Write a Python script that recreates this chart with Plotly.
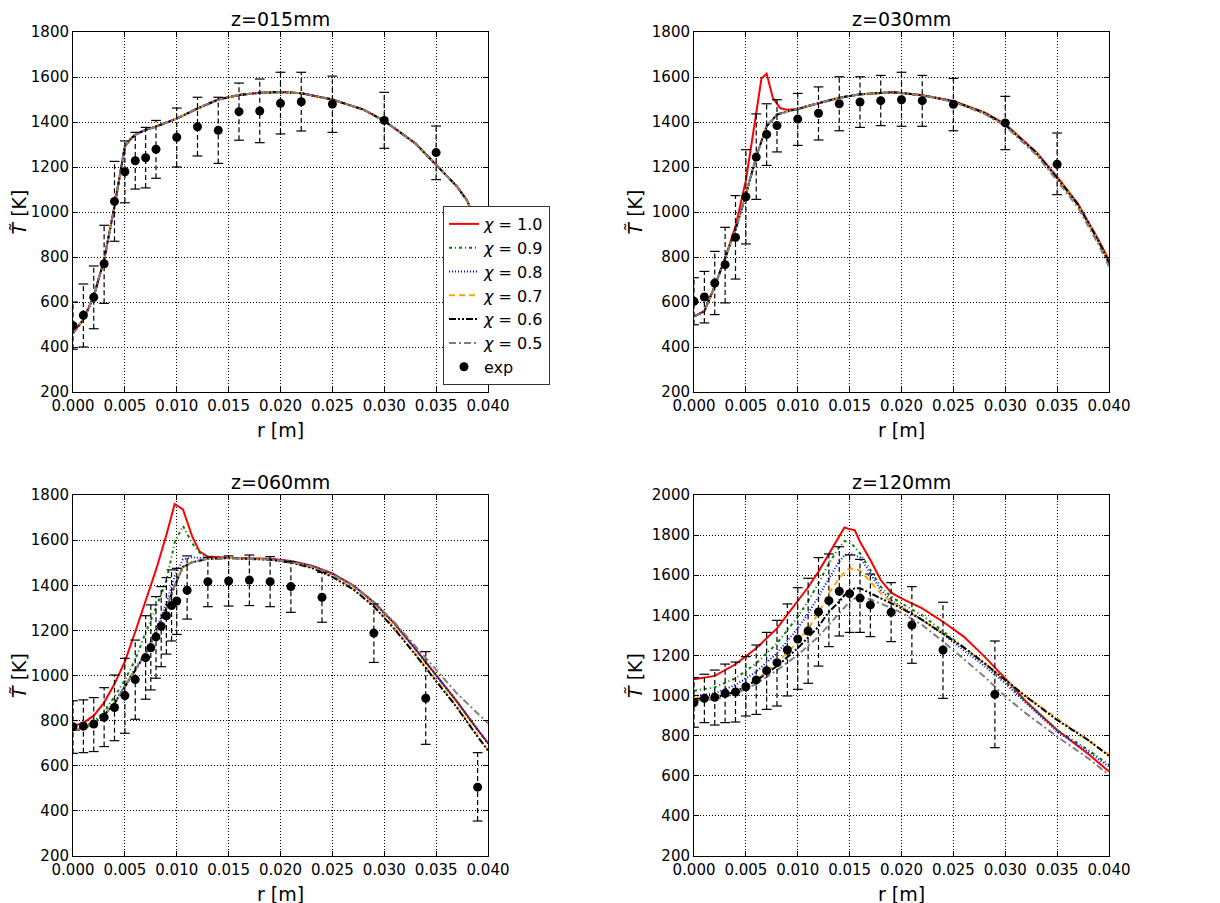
import plotly.graph_objects as go

# ---------------- data ----------------
chi_labels = ["1.0", "0.9", "0.8", "0.7", "0.6", "0.5"]
tick_r = [0.000, 0.005, 0.010, 0.015, 0.020, 0.025, 0.030, 0.035, 0.040]

# z = 015 mm : all six model curves coincide
r15 = [0.000, 0.001, 0.002, 0.003, 0.004, 0.0045, 0.005, 0.0055, 0.006, 0.007, 0.008, 0.010,
       0.012, 0.014, 0.016, 0.018, 0.020, 0.022, 0.025, 0.028, 0.030, 0.033, 0.035, 0.037,
       0.038, 0.039, 0.040]
T15 = [462, 522, 625, 788, 1025, 1159, 1292, 1322, 1344, 1365, 1380, 1415,
       1460, 1500, 1520, 1530, 1533, 1528, 1500, 1455, 1405, 1305, 1210, 1114,
       1050, 936, 847]
r15_exp = [0.000, 0.001, 0.002, 0.003, 0.004, 0.005, 0.006, 0.007, 0.008, 0.010, 0.012, 0.014,
           0.016, 0.018, 0.020, 0.022, 0.025, 0.030, 0.035]
T15_exp = [495, 541, 621, 770, 1047, 1179, 1228, 1241, 1279, 1332, 1379, 1363,
           1446, 1449, 1483, 1490, 1480, 1407, 1264]
T15_hi = [600, 680, 760, 941, 1225, 1316, 1354, 1376, 1407, 1462, 1510, 1510,
          1573, 1591, 1621, 1621, 1604, 1532, 1382]
T15_lo = [390, 400, 481, 594, 870, 1041, 1102, 1107, 1150, 1200, 1249, 1216,
          1319, 1308, 1347, 1360, 1354, 1283, 1144]

# z = 030 mm
r30 = [0.000, 0.001, 0.002, 0.003, 0.004, 0.005, 0.006, 0.007, 0.008, 0.009, 0.010, 0.012,
       0.014, 0.016, 0.018, 0.019, 0.020, 0.022, 0.025, 0.028, 0.030, 0.033, 0.035, 0.037,
       0.039, 0.040]
T30 = [536, 559, 670, 796, 921, 1077, 1247, 1381, 1433, 1447, 1458, 1484,
       1508, 1523, 1530, 1532, 1529, 1519, 1492, 1440, 1388, 1262, 1151, 1033,
       870, 773]
T30_gray = [536, 559, 670, 796, 921, 1077, 1247, 1381, 1433, 1447, 1458, 1484,
            1508, 1523, 1530, 1532, 1529, 1519, 1490, 1436, 1382, 1254, 1140, 1020,
            855, 758]
r30_red = [0.000, 0.001, 0.002, 0.003, 0.004, 0.005, 0.006, 0.0065, 0.007, 0.0076, 0.0083,
           0.0089, 0.010, 0.012, 0.014, 0.016, 0.018, 0.019, 0.020, 0.022, 0.025, 0.028,
           0.030, 0.033, 0.035, 0.037, 0.039, 0.040]
T30_red = [536, 559, 670, 796, 936, 1140, 1440, 1593, 1615, 1507, 1462,
           1455, 1458, 1484, 1508, 1523, 1530, 1532, 1529, 1519, 1493, 1443,
           1391, 1266, 1156, 1038, 876, 786]
r30_exp = [0.000, 0.001, 0.002, 0.003, 0.004, 0.005, 0.006, 0.007, 0.008, 0.010, 0.012, 0.014,
           0.016, 0.018, 0.020, 0.022, 0.025, 0.030, 0.035]
T30_exp = [603, 622, 684, 766, 887, 1068, 1244, 1345, 1384, 1413, 1439, 1481,
           1489, 1495, 1499, 1495, 1479, 1396, 1212]
T30_hi = [708, 736, 825, 932, 1073, 1277, 1436, 1481, 1499, 1527, 1556, 1601,
          1601, 1607, 1621, 1607, 1594, 1514, 1351]
T30_lo = [499, 507, 544, 596, 702, 858, 1056, 1207, 1267, 1296, 1320, 1361,
          1376, 1384, 1381, 1381, 1361, 1277, 1077]

# z = 060 mm
r60 = [0.000, 0.001, 0.002, 0.003, 0.004, 0.005, 0.006, 0.007, 0.008, 0.009, 0.0098, 0.0106,
       0.0115, 0.0122, 0.013, 0.015, 0.017, 0.019, 0.021, 0.023, 0.025, 0.027, 0.029, 0.031,
       0.033, 0.035, 0.037, 0.039, 0.040]
T60_red = [776, 790, 822, 880, 962, 1062, 1194, 1335, 1468, 1623, 1760, 1736,
           1615, 1549, 1527, 1522, 1520, 1517, 1507, 1487, 1452, 1400, 1325, 1230,
           1118, 1000, 885, 760, 700]
T60_09 = [765, 770, 796, 840, 906, 980, 1070, 1190, 1300, 1420, 1590, 1663,
          1585, 1545, 1524, 1521, 1519, 1516, 1506, 1486, 1451, 1399, 1324, 1229,
          1117, 999, 884, 759, 699]
T60_08 = [760, 764, 790, 828, 881, 955, 1030, 1104, 1200, 1320, 1440, 1515,
          1524, 1521, 1519, 1521, 1519, 1516, 1506, 1486, 1451, 1399, 1324, 1229,
          1117, 999, 884, 759, 699]
T60_07 = [759, 762, 788, 825, 877, 951, 1025, 1098, 1190, 1298, 1400, 1483,
          1503, 1511, 1518, 1521, 1519, 1514, 1502, 1480, 1440, 1386, 1310, 1210,
          1097, 980, 862, 732, 670]
T60_06 = [758, 761, 787, 824, 876, 950, 1024, 1097, 1189, 1297, 1398, 1481,
          1502, 1510, 1517, 1520, 1518, 1513, 1500, 1477, 1437, 1382, 1306, 1205,
          1092, 975, 858, 729, 667]
T60_05 = [759, 762, 788, 825, 877, 951, 1025, 1098, 1190, 1298, 1400, 1481,
          1502, 1510, 1517, 1520, 1518, 1514, 1503, 1483, 1448, 1398, 1326, 1235,
          1130, 1025, 921, 832, 788]
r60_exp = [0.000, 0.001, 0.002, 0.003, 0.004, 0.005, 0.006, 0.007, 0.0075, 0.008, 0.0085, 0.009,
           0.0095, 0.010, 0.011, 0.013, 0.015, 0.017, 0.019, 0.021, 0.024, 0.029, 0.034, 0.039]
T60_exp = [773, 776, 785, 815, 858, 911, 982, 1079, 1123, 1171, 1218, 1265,
           1310, 1330, 1378, 1416, 1419, 1423, 1416, 1394, 1347, 1188, 899, 505]
T60_hi = [888, 892, 902, 946, 1002, 1076, 1157, 1265, 1313, 1350, 1394, 1434,
          1468, 1475, 1530, 1524, 1530, 1534, 1527, 1505, 1457, 1317, 1106, 658]
T60_lo = [655, 658, 663, 685, 711, 744, 806, 895, 936, 988, 1039, 1095,
          1153, 1182, 1250, 1305, 1308, 1310, 1305, 1280, 1236, 1058, 695, 355]

# z = 120 mm
r120 = [0.000, 0.002, 0.004, 0.006, 0.008, 0.010, 0.011, 0.012, 0.013, 0.014, 0.0145, 0.015,
        0.0155, 0.016, 0.017, 0.018, 0.019, 0.020, 0.022, 0.024, 0.026, 0.028, 0.030, 0.032,
        0.035, 0.038, 0.040]
T120_red = [1081, 1098, 1156, 1236, 1335, 1468, 1540, 1618, 1709, 1800, 1838, 1830,
            1824, 1767, 1676, 1576, 1513, 1485, 1435, 1368, 1294, 1194, 1086, 970,
            828, 709, 621]
T120_09 = [1024, 1041, 1086, 1161, 1260, 1393, 1470, 1560, 1659, 1740, 1770, 1767,
           1740, 1709, 1626, 1543, 1493, 1460, 1400, 1320, 1240, 1161, 1069, 970,
           828, 729, 654]
T120_08 = [998, 1011, 1053, 1119, 1211, 1335, 1410, 1493, 1585, 1668, 1700, 1706,
           1700, 1689, 1609, 1526, 1476, 1443, 1377, 1305, 1225, 1147, 1061, 962,
           820, 720, 646]
T120_07 = [986, 995, 1028, 1078, 1161, 1269, 1335, 1410, 1510, 1585, 1615, 1634,
           1632, 1623, 1568, 1510, 1468, 1440, 1377, 1310, 1240, 1161, 1078, 995,
           886, 778, 704]
T120_06 = [981, 990, 1019, 1074, 1147, 1236, 1290, 1344, 1418, 1468, 1500, 1520,
           1535, 1535, 1510, 1485, 1460, 1435, 1377, 1310, 1240, 1161, 1078, 995,
           878, 778, 699]
T120_05 = [975, 981, 1008, 1058, 1127, 1202, 1248, 1294, 1352, 1410, 1440, 1468,
           1485, 1493, 1480, 1460, 1437, 1413, 1352, 1270, 1183, 1094, 995, 911,
           795, 687, 604]
r120_exp = [0.000, 0.001, 0.002, 0.003, 0.004, 0.005, 0.006, 0.007, 0.008, 0.009, 0.010, 0.011,
            0.012, 0.013, 0.014, 0.015, 0.016, 0.017, 0.019, 0.021, 0.024, 0.029]
T120_exp = [965, 986, 991, 1011, 1018, 1044, 1078, 1124, 1164, 1227, 1282, 1322,
            1417, 1473, 1520, 1508, 1486, 1452, 1415, 1352, 1227, 1006]
T120_hi = [1090, 1106, 1127, 1157, 1167, 1194, 1252, 1315, 1375, 1457, 1538, 1585,
           1688, 1706, 1742, 1701, 1679, 1606, 1563, 1543, 1465, 1272]
T120_lo = [842, 865, 853, 865, 868, 898, 906, 931, 948, 998, 1031, 1061,
           1147, 1244, 1297, 1315, 1315, 1294, 1269, 1161, 986, 740]

# ---------------- styles ----------------
colors = ["#ff0000", "#008000", "#0000ff", "#ffa500", "#000000", "#808080"]
dashes = ["solid", "3px,3px,1px,3px", "1px,2px", "6px,4px", "7px,2px,2px,2px,2px,2px", "7px,3px,2px,3px"]
FONT = "DejaVu Sans"

W, H = 1220, 903
OFF = 8  # page body margin of the html page
px_x = [(73, 488), (694, 1109), (73, 488), (694, 1109)]
px_y = [(32, 392), (32, 392), (495, 856), (495, 856)]
ML, MT = 73 - OFF, 32 - OFF
MR, MB = W - (1109 - OFF), H - (856 - OFF)
PW, PH = W - ML - MR, H - MT - MB
titles = ["z=015mm", "z=030mm", "z=060mm", "z=120mm"]
yranges = [(200, 1800), (200, 1800), (200, 1800), (200, 2000)]

panels = [
    ([(r15, T15)] * 6, (r15_exp, T15_exp, T15_hi, T15_lo)),
    ([(r30_red, T30_red), (r30, T30), (r30, T30), (r30, T30), (r30, T30), (r30, T30_gray)],
     (r30_exp, T30_exp, T30_hi, T30_lo)),
    ([(r60, T60_red), (r60, T60_09), (r60, T60_08), (r60, T60_07), (r60, T60_06), (r60, T60_05)],
     (r60_exp, T60_exp, T60_hi, T60_lo)),
    ([(r120, T120_red), (r120, T120_09), (r120, T120_08), (r120, T120_07), (r120, T120_06),
      (r120, T120_05)],
     (r120_exp, T120_exp, T120_hi, T120_lo)),
]


def fx(px):
    return (px - OFF - ML) / PW


def fy(py):
    return (H - MB - (py - OFF)) / PH


fig = go.Figure()
annotations = []
for p, (curves, exp) in enumerate(panels):
    xa = "x" if p == 0 else f"x{p+1}"
    ya = "y" if p == 0 else f"y{p+1}"
    first = p == 0
    for k, (rr, TT) in enumerate(curves):
        fig.add_trace(go.Scatter(
            x=rr, y=TT, mode="lines", xaxis=xa, yaxis=ya,
            name=f"<i>χ</i> = {chi_labels[k]}", showlegend=first, legendgroup=f"c{k}",
            line=dict(color=colors[k], width=2, dash=dashes[k]),
        ))
    re, Te, Th, Tl = exp
    seg_x, seg_y = [], []
    for r, lo, hi in zip(re, Tl, Th):
        seg_x += [r, r, None]
        seg_y += [lo, hi, None]
    fig.add_trace(go.Scatter(x=seg_x, y=seg_y, mode="lines", xaxis=xa, yaxis=ya,
                             showlegend=False, legendgroup="exp",
                             line=dict(color="black", width=1.2, dash="5px,3px")))
    fig.add_trace(go.Scatter(x=list(re) + list(re), y=list(Th) + list(Tl), mode="markers",
                             xaxis=xa, yaxis=ya, showlegend=False, legendgroup="exp",
                             marker=dict(symbol="line-ew", size=7,
                                         line=dict(color="black", width=1.2))))
    fig.add_trace(go.Scatter(x=re, y=Te, mode="markers", xaxis=xa, yaxis=ya,
                             name="exp", showlegend=first, legendgroup="exp",
                             marker=dict(symbol="circle", size=9, color="black")))

    x0, x1 = px_x[p]
    y0, y1 = px_y[p]
    axis_common = dict(showline=True, linecolor="black", linewidth=1, mirror="ticks",
                       ticks="inside", ticklen=5, tickcolor="black", automargin=False,
                       showgrid=True, gridcolor="black", gridwidth=1, griddash="1px,2px",
                       zeroline=False, tickfont=dict(family=FONT, size=15, color="black"))
    fig.layout[f"xaxis{'' if p == 0 else p+1}"] = dict(
        domain=[max(0, fx(x0)), min(1, fx(x1))], anchor=ya, range=[0, 0.04],
        tickvals=tick_r, tickformat=".3f",
        title=dict(text="r [m]", font=dict(family=FONT, size=19, color="black"), standoff=9),
        **axis_common)
    yr = yranges[p]
    fig.layout[f"yaxis{'' if p == 0 else p+1}"] = dict(
        domain=[max(0, fy(y1)), min(1, fy(y0))], anchor=xa, range=list(yr),
        tickvals=list(range(yr[0], yr[1] + 1, 200)),
        title=dict(text="<i>T\u0303</i> [K]", font=dict(family=FONT, size=19, color="black"),
                   standoff=4),
        **axis_common)
    annotations.append(dict(text=titles[p], x=fx((x0 + x1) / 2), y=fy(y0 - 13),
                            xref="paper", yref="paper", xanchor="center", yanchor="middle",
                            borderpad=0,
                            showarrow=False, font=dict(family=FONT, size=19, color="black")))

fig.update_layout(
    width=W, height=H, margin=dict(l=ML, r=MR, t=MT, b=MB, autoexpand=False),
    paper_bgcolor="white", plot_bgcolor="white",
    font=dict(family=FONT, color="black"),
    annotations=annotations,
    legend=dict(x=fx(443), y=fy(206), xanchor="left", yanchor="top",
                bgcolor="white", bordercolor="#333333", borderwidth=1,
                font=dict(family=FONT, size=16, color="black"),
                tracegroupgap=0, itemwidth=30),
)

fig.write_html("out.html")
